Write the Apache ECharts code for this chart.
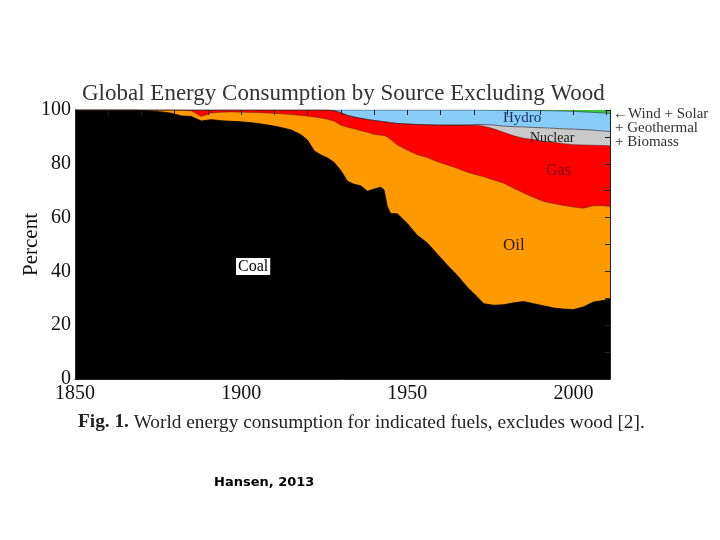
<!DOCTYPE html>
<html>
<head>
<meta charset="utf-8">
<script src="https://cdn.jsdelivr.net/npm/echarts@6/dist/echarts.min.js"></script>
<style>
  html, body { margin: 0; padding: 0; background: #ffffff; }
  #chart { width: 720px; height: 540px; }
</style>
</head>
<body>
<div id="chart"></div>
<script>
// Years sampled along the time axis
var years = [
  1850, 1860, 1868, 1872, 1876, 1879, 1882, 1885, 1888, 1891,
  1894, 1897, 1900, 1903, 1906, 1909, 1912, 1915, 1918, 1920,
  1922, 1924, 1926, 1928, 1930, 1932, 1934, 1936, 1938, 1940,
  1942, 1943, 1944, 1945, 1947, 1950, 1953, 1956, 1959, 1962,
  1965, 1968, 1971, 1973, 1976, 1979, 1982, 1985, 1988, 1991,
  1994, 1997, 2000, 2003, 2006, 2009, 2011
];

// Upper edge (cumulative percent) of each layer
var coalTop = [
  100, 100, 100, 99.7, 99.3, 98.8, 97.8, 97.6, 95.9, 96.4,
  96.0, 95.8, 95.6, 95.3, 94.8, 94.2, 93.5, 92.6, 90.8, 88.8,
  84.8, 83.3, 82.2, 80.5, 77.5, 73.5, 72.4, 71.8, 69.8, 70.6,
  71.3, 70.3, 64.0, 61.5, 61.4, 57.8, 53.4, 50.6, 46.5, 42.4,
  38.6, 34.2, 30.6, 28.0, 27.4, 27.6, 28.3, 28.8, 28.0, 27.2,
  26.4, 26.0, 25.8, 26.8, 28.6, 29.2, 29.8
];
var oilTop = [
  100, 100, 100, 100, 100, 100, 99.9, 99.7, 97.6, 98.9,
  99.2, 99.3, 99.2, 99.1, 99.0, 98.8, 98.6, 98.3, 98.0, 97.7,
  97.4, 97.0, 96.6, 95.8, 94.3, 93.6, 93.0, 92.3, 91.7, 90.9,
  90.6, 90.5, 90.0, 89.0, 87.0, 85.0, 83.4, 82.3, 80.8, 79.6,
  78.3, 76.9, 75.8, 75.2, 74.0, 72.8, 70.9, 69.1, 67.5, 66.0,
  65.2, 64.5, 63.9, 63.5, 64.4, 64.4, 64.1
];
var gasTop = [
  100, 100, 100, 100, 100, 100, 100, 100, 100, 100,
  100, 100, 100, 100, 100, 100, 100, 100, 100, 100,
  100, 100, 100, 99.7, 99.0, 98.0, 97.4, 96.9, 96.5, 96.1,
  95.8, 95.6, 95.5, 95.3, 95.0, 94.8, 94.6, 94.5, 94.4, 94.4,
  94.4, 94.4, 94.3, 94.0, 93.0, 91.7, 90.4, 89.5, 89.0, 88.4,
  88.0, 87.5, 87.1, 87.0, 86.9, 86.8, 86.7
];
var nuclearTop = [
  100, 100, 100, 100, 100, 100, 100, 100, 100, 100,
  100, 100, 100, 100, 100, 100, 100, 100, 100, 100,
  100, 100, 100, 99.7, 99.0, 98.0, 97.4, 96.9, 96.5, 96.1,
  95.8, 95.6, 95.5, 95.3, 95.0, 94.8, 94.6, 94.5, 94.4, 94.4,
  94.4, 94.4, 94.6, 94.6, 94.4, 94.0, 93.8, 93.7, 93.5, 93.4,
  93.2, 93.0, 92.9, 92.7, 92.5, 92.2, 92.0
];
var hydroTop = [
  100, 100, 100, 100, 100, 100, 100, 100, 100, 100,
  100, 100, 100, 100, 100, 100, 100, 100, 100, 100,
  100, 100, 100, 100, 100, 100, 100, 100, 100, 100,
  100, 100, 100, 100, 100, 100, 100, 100, 100, 100,
  100, 100, 100, 99.95, 99.9, 99.9, 99.85, 99.8, 99.8, 99.75,
  99.7, 99.6, 99.5, 99.3, 99.1, 98.9, 98.7
];
var renewTop = [
  100, 100, 100, 100, 100, 100, 100, 100, 100, 100,
  100, 100, 100, 100, 100, 100, 100, 100, 100, 100,
  100, 100, 100, 100, 100, 100, 100, 100, 100, 100,
  100, 100, 100, 100, 100, 100, 100, 100, 100, 100,
  100, 100, 100, 100, 100, 100, 100, 100, 100, 100,
  100, 100, 100, 100, 100, 100, 100
];
var xTicks = [1850, 1900, 1950, 2000];
var yTicks = [0, 20, 40, 60, 80, 100];

function pairs(arr) {
  return years.map(function (y, i) { return [y, arr[i]]; });
}

var serif = '"Liberation Serif", "Times New Roman", serif';
var layers = [
  { name: 'Wind + Solar + Geothermal + Biomass', data: renewTop, color: '#3cc83c', line: 'rgba(0,0,0,0)' },
  { name: 'Hydro', data: hydroTop, color: '#88ccf8', line: 'rgba(40,60,80,0.75)' },
  { name: 'Nuclear', data: nuclearTop, color: '#c9c9c9', line: 'rgba(60,40,40,0.8)' },
  { name: 'Gas', data: gasTop, color: '#ff0000', line: 'rgba(70,30,30,0.6)' },
  { name: 'Oil', data: oilTop, color: '#ff9900', line: 'rgba(90,40,0,0.6)' },
  { name: 'Coal', data: coalTop, color: '#000000', line: '#000000' }
];

var series = layers.map(function (l) {
  return {
    name: l.name,
    type: 'line',
    data: pairs(l.data),
    showSymbol: false,
    symbol: 'none',
    silent: true,
    lineStyle: { width: 0.8, color: l.line },
    areaStyle: { color: l.color, opacity: 1 },
    itemStyle: { color: l.color }
  };
});

var chart = echarts.init(document.getElementById('chart'), null, { renderer: 'canvas' });
chart.setOption({
  animation: false,
  backgroundColor: '#ffffff',
  grid: { left: 75, right: 110, top: 110, bottom: 161, containLabel: false },
  xAxis: [
    {
      type: 'value', position: 'bottom', min: 1850, max: 2011, interval: 50,
      z: 10,
      axisLine: { show: true, onZero: false, lineStyle: { color: '#222', width: 1 } },
      axisTick: { show: false },
      splitLine: { show: false },
      axisLabel: {
        show: true, margin: 5, color: '#111', fontFamily: serif, fontSize: 20,
        showMaxLabel: false,
        formatter: function (v) { return xTicks.indexOf(v) >= 0 ? String(v) : ''; }
      }
    },
    {
      type: 'value', position: 'top', min: 1850, max: 2011, interval: 10,
      z: 10,
      axisLine: { show: false, onZero: false },
      axisTick: { show: true, inside: true, length: 5, lineStyle: { color: '#222', width: 1 } },
      axisLabel: { show: false },
      splitLine: { show: false }
    }
  ],
  yAxis: [
    {
      type: 'value', position: 'left', min: 0, max: 100, interval: 20,
      z: 10,
      name: 'Percent', nameLocation: 'middle', nameGap: 33, nameRotate: 90,
      nameMoveOverlap: false,
      nameTextStyle: { color: '#111', fontFamily: serif, fontSize: 21 },
      axisLine: { show: true, onZero: false, lineStyle: { color: '#222', width: 1 } },
      axisTick: { show: false },
      splitLine: { show: false },
      axisLabel: {
        show: true, margin: 4, color: '#111', fontFamily: serif, fontSize: 20,
        formatter: function (v) { return yTicks.indexOf(v) >= 0 ? String(v) : ''; }
      }
    },
    {
      type: 'value', position: 'right', min: 0, max: 100, interval: 10,
      z: 10,
      axisLine: { show: true, onZero: false, lineStyle: { color: '#222', width: 1 } },
      axisTick: { show: true, inside: true, length: 5, lineStyle: { color: '#222', width: 1 } },
      axisLabel: { show: false },
      splitLine: { show: false }
    }
  ],
  series: series,
  graphic: [
    { type: 'text', left: 82, top: 82, z: 100,
      style: { text: 'Global Energy Consumption by Source Excluding Wood', fill: '#333', font: '23px ' + serif } },
    { type: 'text', left: 236, top: 258, z: 100,
      style: { text: 'Coal', fill: '#000', font: '16px ' + serif, backgroundColor: '#fff', padding: [1, 2, 0, 2] } },
    { type: 'text', left: 503, top: 237, z: 100,
      style: { text: 'Oil', fill: '#2a1800', font: '17px ' + serif } },
    { type: 'text', left: 546, top: 163, z: 100,
      style: { text: 'Gas', fill: '#7a0a0a', font: '16px ' + serif } },
    { type: 'text', left: 503, top: 111, z: 100,
      style: { text: 'Hydro', fill: '#1a3360', font: '15px ' + serif } },
    { type: 'text', left: 530, top: 131, z: 100,
      style: { text: 'Nuclear', fill: '#1a1a1a', font: '14px ' + serif } },
    { type: 'text', left: 613, top: 107, z: 100,
      style: { text: '\u2190Wind + Solar', fill: '#333', font: '15px ' + serif } },
    { type: 'text', left: 615, top: 121, z: 100,
      style: { text: '+ Geothermal', fill: '#333', font: '15px ' + serif } },
    { type: 'text', left: 615, top: 135, z: 100,
      style: { text: '+ Biomass', fill: '#333', font: '15px ' + serif } },
    { type: 'text', left: 78, top: 413, z: 100,
      style: {
        text: '{b|Fig. 1.} World energy consumption for indicated fuels, excludes wood [2].',
        fill: '#222', font: '19.3px ' + serif,
        rich: { b: { fontWeight: 'bold', fontFamily: serif, fontSize: 19.3, fill: '#222' } }
      } },
    { type: 'text', left: 214, top: 476, z: 100,
      style: { text: 'Hansen, 2013', fill: '#000', font: 'bold 13px "DejaVu Sans", sans-serif' } }
  ]
});
</script>
</body>
</html>
